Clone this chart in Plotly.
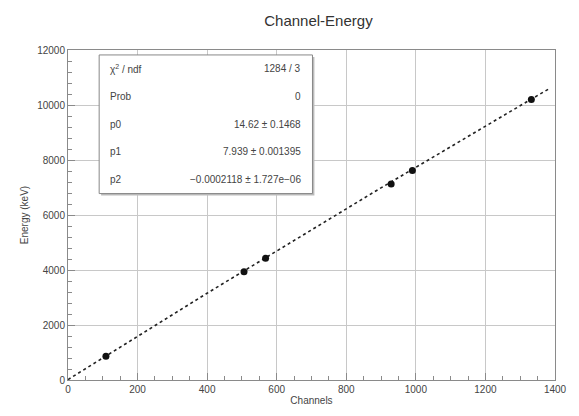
import numpy as np
import plotly.graph_objects as go

# Calibration points (channel, energy in keV)
channels = [109, 506, 568, 929, 990, 1332]
energies = [860, 3940, 4430, 7125, 7620, 10200]

# Quadratic fit parameters: E = p0 + p1*ch + p2*ch^2
p0, p1, p2 = 14.62, 7.939, -0.0002118

stat_labels = ["χ<sup>2</sup> / ndf", "Prob", "p0", "p1", "p2"]
stat_values = ["1284 / 3", "0", "14.62 ± 0.1468", "7.939 ± 0.001395",
               "−0.0002118 ± 1.727e−06"]

fit_x = np.linspace(0, 1385, 300)
fit_y = p0 + p1 * fit_x + p2 * fit_x ** 2

FONT = "Liberation Sans, Arial, sans-serif"
TXT = "#444444"
AX = "#8a8a8a"

fig = go.Figure()
fig.add_trace(go.Scatter(x=fit_x, y=fit_y, mode="lines",
                         line=dict(color="#222222", width=1.6, dash="dot"),
                         hoverinfo="skip", showlegend=False))
fig.add_trace(go.Scatter(x=channels, y=energies, mode="markers",
                         marker=dict(color="#111111", size=7),
                         showlegend=False))

axis_common = dict(showgrid=True, gridcolor="#c8c8c8", gridwidth=1,
                   showline=True, linecolor=AX, linewidth=1, mirror=True,
                   ticks="inside", ticklen=7, tickcolor=AX, tickformat="d",
                   zeroline=False, tickfont=dict(size=10, color=TXT, family=FONT))

fig.update_xaxes(range=[0, 1400], dtick=200,
                 minor=dict(dtick=50, ticks="inside", ticklen=4, tickcolor=AX,
                            tickwidth=1, showgrid=False),
                 title=dict(text="Channels", font=dict(size=10, color=TXT, family=FONT),
                            standoff=2),
                 **axis_common)
fig.update_yaxes(range=[0, 12000], dtick=2000,
                 minor=dict(dtick=400, ticks="inside", ticklen=4, tickcolor=AX,
                            tickwidth=1, showgrid=False),
                 title=dict(text="Energy (keV)", font=dict(size=10, color=TXT, family=FONT),
                            standoff=6),
                 **axis_common)

# Fit statistics box
bx0, bx1, by0, by1 = 0.064, 0.502, 0.565, 0.985
shapes = [
    dict(type="rect", xref="paper", yref="paper", x0=bx0 + 0.004, x1=bx1 + 0.004,
         y0=by0 - 0.006, y1=by1 - 0.006, line=dict(width=0), fillcolor="#bbbbbb",
         layer="above"),
    dict(type="rect", xref="paper", yref="paper", x0=bx0, x1=bx1, y0=by0, y1=by1,
         line=dict(color="#888888", width=1), fillcolor="white", layer="above"),
]
annotations = []
n = len(stat_labels)
for i, (lab, val) in enumerate(zip(stat_labels, stat_values)):
    yy = by1 - (i + 0.5) * (by1 - by0) / n
    annotations.append(dict(x=bx0 + 0.018, y=yy, xref="paper", yref="paper",
                            text=lab, showarrow=False, xanchor="left", yanchor="middle",
                            font=dict(size=10, color=TXT, family=FONT)))
    annotations.append(dict(x=bx1 - 0.02, y=yy, xref="paper", yref="paper",
                            text=val, showarrow=False, xanchor="right", yanchor="middle",
                            font=dict(size=10, color=TXT, family=FONT)))

fig.update_layout(
    width=579, height=416,
    margin=dict(l=68, r=13, t=50, b=28),
    paper_bgcolor="white", plot_bgcolor="white",
    title=dict(text="Channel-Energy", x=0.55, xanchor="center", y=0.95, yanchor="middle",
               font=dict(size=15, color="#333333", family=FONT)),
    shapes=shapes, annotations=annotations,
)

fig.write_html("out.html")
